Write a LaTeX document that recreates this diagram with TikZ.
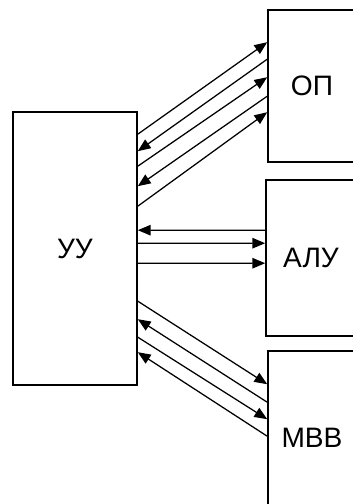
\documentclass[tikz,border=0pt]{standalone}
\usepackage{fontspec}
\setmainfont{Liberation Sans}
\usepackage{tikz}
\usetikzlibrary{arrows.meta,calc}

\begin{document}
\begin{tikzpicture}[x=0.025cm, y=-0.025cm, box/.style={draw,line width=1.1pt,inner sep=0pt,font=\fontsize{20}{24}\selectfont}, link/.style={line width=0.9pt}, >={Triangle[length=3.2mm,width=2.6mm]}]
\useasboundingbox (0,0) rectangle (353,504);
\clip (0,0) rectangle (353,504);
\node[box,minimum width=3.1cm,minimum height=6.825cm] (uu) at (75,248.5) {УУ};
\node[box,minimum width=2.2cm,minimum height=3.8cm] (op) at (312,86) {ОП};
\node[box,minimum width=2.25cm,minimum height=3.9cm] (alu) at (311,258) {АЛУ};
\node[box,minimum width=2.2cm,minimum height=4.35cm] (mvv) at (312,438) {МВВ};
% УУ -- ОП
\draw[link,->] ($(uu.north east)+(0,23)$) -- ($(op.north west)+(0,33)$);
\draw[link,->] ($(op.north west)+(0,50)$) -- ($(uu.north east)+(0,40)$);
\draw[link,->] ($(uu.north east)+(0,55)$) -- ($(op.north west)+(0,68)$);
\draw[link,->] ($(op.north west)+(0,87)$) -- ($(uu.north east)+(0,75)$);
\draw[link,->] ($(uu.north east)+(0,95)$) -- ($(op.north west)+(0,103)$);
% УУ -- АЛУ
\draw[link,->] ($(alu.north west)+(0,51)$) -- ($(uu.north east)+(0,119)$);
\draw[link,->] ($(uu.north east)+(0,132)$) -- ($(alu.north west)+(0,64)$);
\draw[link,->] ($(uu.north east)+(0,152)$) -- ($(alu.north west)+(0,84)$);
% УУ -- МВВ
\draw[link,->] ($(uu.north east)+(0,190)$) -- ($(mvv.north west)+(0,34)$);
\draw[link,->] ($(mvv.north west)+(0,52)$) -- ($(uu.north east)+(0,208)$);
\draw[link,->] ($(uu.north east)+(0,226)$) -- ($(mvv.north west)+(0,69)$);
\draw[link,->] ($(mvv.north west)+(0,86)$) -- ($(uu.north east)+(0,241)$);
\end{tikzpicture}
\end{document}
